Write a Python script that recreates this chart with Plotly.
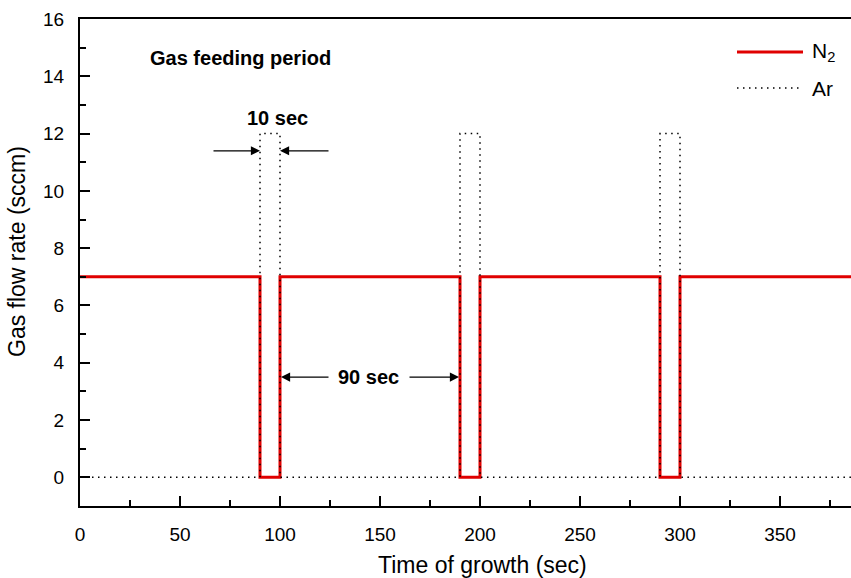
import plotly.graph_objects as go

# N2 flow (sccm) step profile
n2_t = [0, 90, 90, 100, 100, 190, 190, 200, 200, 290, 290, 300, 300, 390]
n2_v = [7, 7, 0, 0, 7, 7, 0, 0, 7, 7, 0, 0, 7, 7]
# Ar flow (sccm) step profile
ar_t = [0, 90, 90, 100, 100, 190, 190, 200, 200, 290, 290, 300, 300, 390]
ar_v = [0, 0, 12, 12, 0, 0, 12, 12, 0, 0, 12, 12, 0, 0]

RED = "#e00000"
fig = go.Figure()
fig.add_trace(go.Scatter(x=n2_t, y=n2_v, mode="lines", name="N<sub>2</sub>",
                         line=dict(color=RED, width=3)))
fig.add_trace(go.Scatter(x=ar_t, y=ar_v, mode="lines", name="Ar",
                         line=dict(color="black", width=1.5, dash="1.5px,4.5px")))

bold = dict(family="Liberation Sans, Arial", size=20, color="black")
fig.add_annotation(x=80, y=14.65, text="<b>Gas feeding period</b>", showarrow=False, font=bold)
fig.add_annotation(x=98.5, y=12.55, text="<b>10 sec</b>", showarrow=False, font=bold)
fig.add_annotation(x=144, y=3.5, text="<b>90 sec</b>", showarrow=False, font=bold)

arrows = [((66, 11.4), (90, 11.4)), ((125, 11.4), (100, 11.4)),
          ((125, 3.5), (100.5, 3.5)), ((164, 3.5), (189.5, 3.5))]
for (x0, y0), (x1, y1) in arrows:
    fig.add_annotation(x=x1, y=y1, ax=x0, ay=y0, axref="x", ayref="y", xref="x", yref="y",
                       text="", showarrow=True, arrowhead=2, arrowsize=1.4, arrowwidth=1.3,
                       arrowcolor="black")

# pixel -> paper helpers (plot area spans x 80..851, y 19..506)
def px_x(p):
    return (p - 80) / 771.0
def px_y(p):
    return (506 - p) / 487.0

# custom legend
legend_items = [("N<sub>2</sub>", dict(color=RED, width=3), 52),
                ("Ar", dict(color="black", width=1.5, dash="1.5px,4.5px"), 88)]
for label, ln, ypix in legend_items:
    fig.add_shape(type="line", xref="paper", yref="paper",
                  x0=px_x(737), x1=px_x(803), y0=px_y(ypix), y1=px_y(ypix), line=ln)
    fig.add_annotation(xref="paper", yref="paper", x=px_x(810), y=px_y(ypix),
                       text=label, showarrow=False, xanchor="left", yanchor="middle",
                       font=dict(size=21, color="black"))

# axis titles
fig.add_annotation(xref="paper", yref="paper", x=px_x(482), y=px_y(565),
                   text="Time of growth (sec)", showarrow=False,
                   xanchor="center", yanchor="middle", font=dict(size=23))
fig.add_annotation(xref="paper", yref="paper", x=px_x(17), y=px_y(252),
                   text="Gas flow rate (sccm)", showarrow=False, textangle=-90,
                   xanchor="center", yanchor="middle", font=dict(size=23))

fig.update_layout(
    width=851, height=578,
    margin=dict(l=80, r=0, t=19, b=72),
    plot_bgcolor="white", paper_bgcolor="white",
    font=dict(family="Liberation Sans, Arial", size=19, color="black"),
    showlegend=False,
    xaxis=dict(range=[0, 385.5], tickvals=[0, 50, 100, 150, 200, 250, 300, 350],
               ticks="inside", ticklen=10, tickwidth=1.5, tickcolor="black",
               minor=dict(dtick=25, tick0=0, ticks="inside", ticklen=6, tickwidth=1.5, tickcolor="black"),
               showline=True, linecolor="black", linewidth=2, mirror=True,
               showgrid=False, zeroline=False, ticklabelstandoff=10,
               tickfont=dict(size=19)),
    yaxis=dict(range=[-1, 16], tickvals=[0, 2, 4, 6, 8, 10, 12, 14, 16],
               ticks="inside", ticklen=10, tickwidth=1.5, tickcolor="black",
               minor=dict(dtick=1, tick0=0, ticks="inside", ticklen=6, tickwidth=1.5, tickcolor="black"),
               showline=True, linecolor="black", linewidth=2,
               showgrid=False, zeroline=False, ticklabelstandoff=10,
               tickfont=dict(size=19)),
)

fig.write_html("out.html")
